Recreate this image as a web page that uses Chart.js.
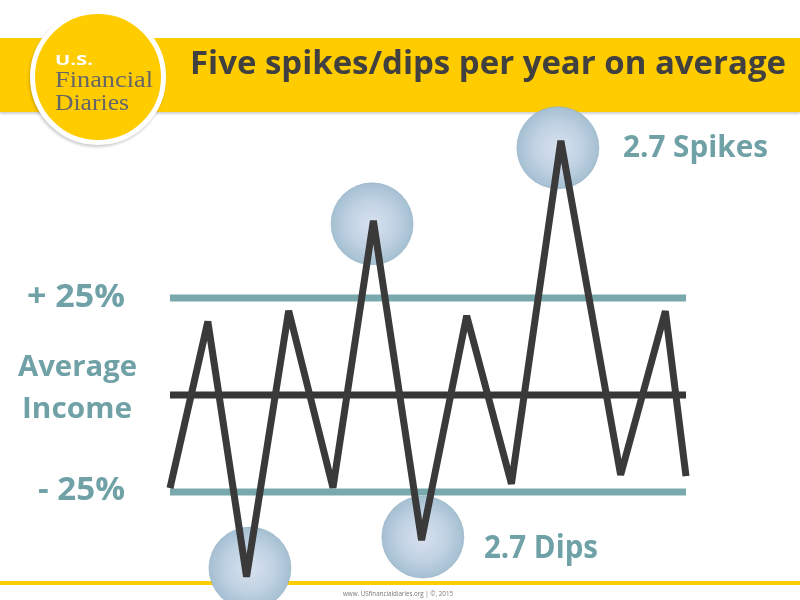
<!DOCTYPE html>
<html>
<head>
<meta charset="utf-8">
<script src="https://cdn.jsdelivr.net/npm/chart.js@4.4.1/dist/chart.umd.min.js"></script>
<style>
  html, body { margin: 0; padding: 0; background: #fff; }
  #slide { position: relative; width: 800px; height: 600px; overflow: hidden; background: #fff; }
  #bar { position: absolute; left: 0; top: 38px; width: 800px; height: 74px; background: #ffcc00;
         box-shadow: 0 2px 2px rgba(0,0,0,0.18); }
  #logo { position: absolute; left: 30px; top: 9px; width: 126px; height: 126px; border-radius: 50%;
          background: #ffcc00; border: 5px solid #fff; box-shadow: -1px 2px 3px rgba(0,0,0,0.2); }
  #footline { position: absolute; left: 0; top: 581px; width: 800px; height: 4px; background: #ffcc00; }
  canvas { position: absolute; left: 0; top: 0; }
  .t { position: absolute; white-space: nowrap; line-height: 1; transform-origin: 0 0;
       font-family: "Open Sans", sans-serif; font-weight: 700; color: #6fa1a6; }
  .serif { font-family: "Liberation Serif", "DejaVu Serif", serif; font-weight: 400; color: #666; }
</style>
</head>
<body>
<div id="slide">
  <div id="bar"></div>
  <div id="footline"></div>
  <div id="logo"></div>
  <canvas id="chart" width="800" height="600"></canvas>
  <div id="labels"></div>
</div>
<script>
// zigzag of income around the average, in % of average income
const months = [0, 0.88, 1.78, 2.76, 3.79, 4.73, 5.85, 6.90, 7.94, 9.09, 10.48, 11.52, 12];
const incomeChange = [-24.0, 18.9, -46.8, 21.7, -23.9, 44.9, -37.4, 20.4, -22.9, 65.5, -20.6, 21.6, -20.9];

// reference levels: +25%, average, -25%
const bandLevels = [25, 0, -25];
const bandColors = ["#79a9ac", "#363636", "#79a9ac"];

// highlighted spikes and dips
const highlightX = [4.70, 9.02, 1.86, 5.88];
const highlightY = [44.1, 63.7, -44.6, -36.6];

// text on the slide: [text, x, baseline, width, size, class, color]
const texts = [
  ["Five spikes/dips per year on average", 190, 74, 596, 33, "", "#404040"],
  ["U.S.", 55, 65, 38, 15, "", "#ffffff"],
  ["Financial", 55, 87, 98, 24, "serif", "#666666"],
  ["Diaries", 55, 110, 74, 24, "serif", "#666666"],
  ["+ 25%", 27, 307, 98, 33, "", null],
  ["Average", 18, 376, 119, 28, "", null],
  ["Income", 22, 418, 110, 28, "", null],
  ["- 25%", 38, 500, 87, 33, "", null],
  ["2.7 Spikes", 623, 158, 145, 31, "", null],
  ["2.7 Dips", 484, 558, 114, 32, "", null],
  ["www. USfinancialdiaries.org  |  \u00a9, 2015", 343, 596, 110, 8, "", "#777777"]
];

const labels = document.getElementById('labels');
texts.forEach(([str, x, base, w, size, cls, color]) => {
  const el = document.createElement('div');
  el.className = 't ' + cls;
  el.textContent = str;
  el.style.fontSize = size + 'px';
  if (color) el.style.color = color;
  if (str.startsWith('www')) el.style.fontWeight = 400;
  const asc = cls === 'serif' ? 0.837 : 0.888;
  el.style.left = x + 'px';
  el.style.top = (base - asc * size) + 'px';
  labels.appendChild(el);
  const real = el.getBoundingClientRect().width;
  if (real > 0) el.style.transform = 'scaleX(' + (w / real) + ')';
});

function bubbleFill(c) {
  const chart = c.chart;
  if (!chart.chartArea || c.dataIndex === undefined) return '#b8cde0';
  const px = chart.scales.x.getPixelForValue(highlightX[c.dataIndex]);
  const py = chart.scales.y.getPixelForValue(highlightY[c.dataIndex]);
  const g = chart.ctx.createRadialGradient(px, py, 0, px, py, 41);
  g.addColorStop(0, '#d8e1ef');
  g.addColorStop(0.6, '#bfd1e2');
  g.addColorStop(1, '#a4c0d2');
  return g;
}

const zigzag = months.map((m, i) => ({ x: m, y: incomeChange[i] }));
const bands = bandLevels.map((lvl, i) => ({
  data: [{ x: 0, y: lvl }, { x: 12, y: lvl }],
  borderColor: bandColors[i],
  borderWidth: 7,
  pointRadius: 0,
  clip: false
}));

// the big bubbles force ~42px of minimum padding on every side,
// so the bottom padding is 42 and the y range is set to match
new Chart(document.getElementById('chart'), {
  type: 'line',
  data: {
    datasets: [
      {
        data: zigzag,
        borderColor: '#3a3a3a',
        borderWidth: 7,
        borderJoinStyle: 'bevel',
        borderCapStyle: 'butt',
        tension: 0,
        pointRadius: 0,
        clip: false
      },
      ...bands,
      {
        data: highlightX.map((x, i) => ({ x, y: highlightY[i] })),
        showLine: false,
        pointRadius: 41,
        pointBackgroundColor: bubbleFill,
        pointBorderColor: 'rgba(140,165,185,0.5)',
        pointBorderWidth: 1,
        clip: false
      }
    ]
  },
  options: {
    responsive: false,
    animation: false,
    events: [],
    layout: { padding: { left: 170, right: 114, top: 100, bottom: 42 } },
    plugins: { legend: { display: false }, tooltip: { enabled: false } },
    scales: {
      x: { type: 'linear', min: 0, max: 12, display: false },
      y: { type: 'linear', min: -42, max: 76, display: false }
    }
  }
});
</script>
</body>
</html>
